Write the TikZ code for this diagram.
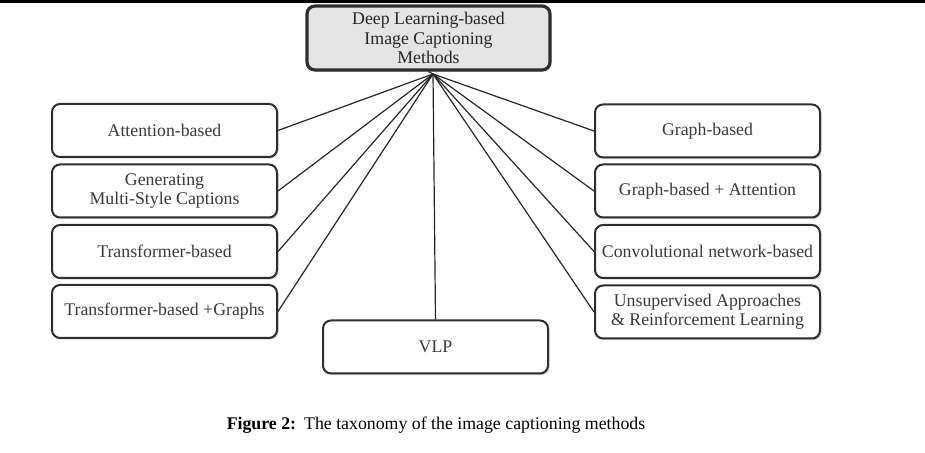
\documentclass[tikz,border=0pt]{standalone}
\usepackage{fontspec}
\setmainfont{Liberation Serif}
\usetikzlibrary{shadows}
\definecolor{boxline}{HTML}{2E2E2E}
\definecolor{boxtext}{HTML}{3A3A3A}
\definecolor{rootfill}{HTML}{E4E4E4}
\begin{document}
\begin{tikzpicture}[x=0.5pt,y=-0.5pt,
  method/.style={draw=boxline, line width=1pt, rounded corners=4pt, fill=white,
    minimum width=112.5pt, minimum height=26.5pt, inner sep=0pt, align=center,
    text=boxtext, font=\fontsize{8.9}{9.7}\selectfont,
    drop shadow={shadow xshift=0.8pt, shadow yshift=-0.8pt, opacity=0.35}},
  root/.style={method, fill=rootfill, line width=1.6pt, minimum width=121.5pt,
    minimum height=32pt, text=black!85},
  link/.style={draw=black!85, line width=0.6pt}]
\useasboundingbox (0,0) rectangle (925,453);
\draw[line width=1.5pt] (0,2) -- (925,2);
\node[root] (dl) at (428.5,38){Deep Learning-based\\Image Captioning\\Methods};
\coordinate (hub) at (433,74);
% left column
\node[method] (att) at (164.5,130.5){Attention-based};
\node[method] (msc) at (164.5,191){Generating\\Multi-Style Captions};
\node[method] (trf) at (164.5,251.5){Transformer-based};
\node[method] (trg) at (164.5,311.5){Transformer-based +Graphs};
% right column
\node[method] (gb) at (707.5,131){Graph-based};
\node[method] (gba) at (707.5,191){Graph-based + Attention};
\node[method] (cnn) at (707.5,251.5){Convolutional network-based};
\node[method] (url) at (707.5,312){Unsupervised Approaches\\\& Reinforcement Learning};
\node[method] (vlp) at (435.5,347){VLP};
\draw[link](hub) -- (dl.south);
\draw[link](hub) -- (att.east);
\draw[link](hub) -- (msc.east);
\draw[link](hub) -- (trf.east);
\draw[link](hub) -- (trg.east);
\draw[link](hub) -- (gb.west);
\draw[link](hub) -- (gba.west);
\draw[link](hub) -- (cnn.west);
\draw[link](hub) -- (url.west);
\draw[link](hub) -- (vlp.north);
\node[font=\fontsize{8.9}{9.7}\selectfont] (cap) at (436,425){\textbf{Figure 2:}\hspace{0.45em}The taxonomy of the image captioning methods};
\end{tikzpicture}
\end{document}
